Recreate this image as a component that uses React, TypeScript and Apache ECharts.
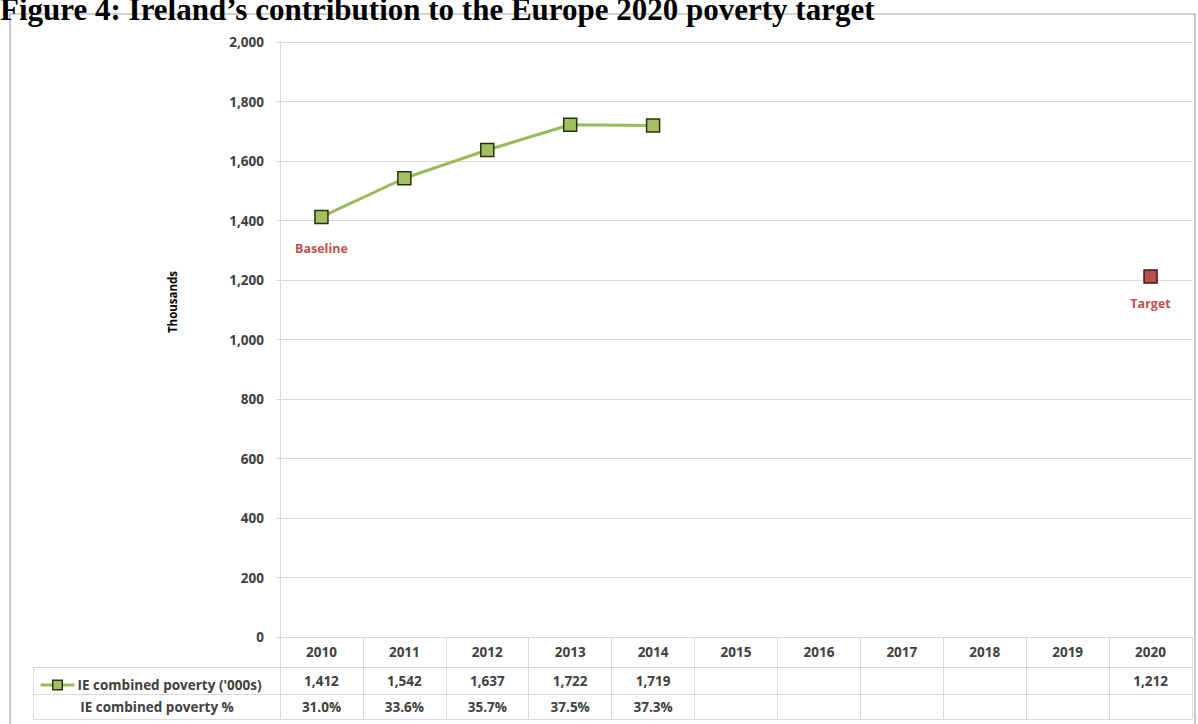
import React, { useEffect, useRef } from "react";
import * as echarts from "echarts";

const years = ["2010", "2011", "2012", "2013", "2014", "2015", "2016", "2017", "2018", "2019", "2020"];
const povertyThousands: (number | null)[] = [1412, 1542, 1637, 1722, 1719, null, null, null, null, null, 1212];
const povertyPct: (number | null)[] = [31.0, 33.6, 35.7, 37.5, 37.3, null, null, null, null, null, null];
const pointNotes: (string | null)[] = ["Baseline", null, null, null, null, null, null, null, null, null, "Target"];
const seriesName = "IE combined poverty ('000s)";
const pctRowName = "IE combined poverty %";
const yAxisName = "Thousands";
const titleText = "Figure 4: Ireland\u2019s contribution to the Europe 2020 poverty target";
const yMin = 0;
const yMax = 2000;
const yStep = 200;

const FONT = "'Open Sans', 'Noto Sans', sans-serif";
const GRID_C = "#D9D9D9";
const TXT = "#404040";
const LINE_C = "#9BBB59";

const fmtThousands = (v: number | null) => (v == null ? "" : v.toLocaleString("en-US"));
const fmtPct = (v: number | null) => (v == null ? "" : v.toFixed(1) + "%");

export default function App() {
  const ref = useRef<HTMLDivElement>(null);
  useEffect(() => {
    if (!ref.current) return;
    const chart = echarts.init(ref.current, null, { renderer: "svg" });
    const last = povertyThousands.length - 1;
    const seriesData = povertyThousands.map((v, i) => {
      const note = pointNotes[i];
      const item: any = { value: v };
      if (i === last) {
        item.itemStyle = { color: "#B9504D", borderColor: "#4a1414" };
      }
      if (note) {
        item.label = { show: true, formatter: note, distance: i === last ? 13 : 18 };
      }
      return item;
    });
    const labelBase = { fontFamily: FONT, fontWeight: "bold" as const, fontSize: 13.5, color: TXT };
    chart.setOption({
      animation: false,
      backgroundColor: "#fff",
      grid: { left: 280, right: 6, top: 42, bottom: 87, containLabel: false },
      legend: {
        show: true,
        left: 34,
        top: 673,
        itemWidth: 34,
        itemHeight: 12,
        itemGap: 4,
        data: [{ name: seriesName }],
        lineStyle: { color: LINE_C, width: 3 },
        itemStyle: { color: "#A3C163", borderColor: "#26330d", borderWidth: 1.5 },
        textStyle: { ...labelBase, padding: [0, 0, 0, -2] },
        selectedMode: false,
      },
      xAxis: [
        {
          type: "category",
          data: years,
          position: "bottom",
          boundaryGap: true,
          axisLine: { show: true, lineStyle: { color: GRID_C, width: 1 } },
          axisTick: { show: true, length: 82, interval: 0, lineStyle: { color: GRID_C } },
          axisLabel: { ...labelBase, margin: 8, interval: 0 },
        },
        {
          type: "category",
          data: years,
          position: "bottom",
          offset: 30,
          axisLine: { show: true, lineStyle: { color: GRID_C, width: 1 } },
          axisTick: { show: false },
          axisLabel: { ...labelBase, margin: 7, interval: 0, formatter: (_v: string, i: number) => fmtThousands(povertyThousands[i]) },
        },
        {
          type: "category",
          data: years,
          position: "bottom",
          offset: 57,
          axisLine: { show: true, lineStyle: { color: GRID_C, width: 1 } },
          axisTick: { show: false },
          axisLabel: { ...labelBase, margin: 6, interval: 0, formatter: (_v: string, i: number) => fmtPct(povertyPct[i]) },
        },
      ],
      yAxis: {
        type: "value",
        min: yMin,
        max: yMax,
        interval: yStep,
        axisLine: { show: true, lineStyle: { color: GRID_C } },
        axisTick: { show: true, length: 4, lineStyle: { color: GRID_C } },
        splitLine: { show: true, lineStyle: { color: GRID_C, width: 1 } },
        axisLabel: { ...labelBase, margin: 16, formatter: (v: number) => v.toLocaleString("en-US") },
      },
      series: [
        {
          name: seriesName,
          type: "line",
          data: seriesData,
          connectNulls: false,
          symbol: "rect",
          symbolSize: 13,
          lineStyle: { color: LINE_C, width: 3 },
          itemStyle: { color: "#A3C163", borderColor: "#26330d", borderWidth: 1.5 },
          label: {
            show: false,
            position: "bottom",
            distance: 12,
            color: "#C0504D",
            fontFamily: FONT,
            fontWeight: "bold",
            fontSize: 12.5,
          },
        },
      ],
      graphic: [
        {
          type: "rect",
          shape: { x: 10, y: 14, width: 1185, height: 730 },
          style: { fill: "none", stroke: "#A6A6A6", lineWidth: 1.2 },
          silent: true,
        },
        {
          type: "text",
          x: 0,
          y: -6,
          style: {
            text: titleText,
            fontFamily: "'Liberation Serif', 'Times New Roman', serif",
            fontWeight: "bold",
            fontSize: 31,
            fill: "#000",
            textVerticalAlign: "top",
          },
        },
        {
          type: "text",
          x: 172,
          y: 302,
          rotation: Math.PI / 2,
          style: {
            text: yAxisName,
            fontFamily: FONT,
            fontWeight: "bold",
            fontSize: 11.5,
            fill: "#000",
            align: "center",
            verticalAlign: "middle",
          },
        },
        { type: "line", shape: { x1: 33, y1: 667.5, x2: 280, y2: 667.5 }, style: { stroke: GRID_C, lineWidth: 1 } },
        { type: "line", shape: { x1: 33, y1: 694.5, x2: 280, y2: 694.5 }, style: { stroke: GRID_C, lineWidth: 1 } },
        { type: "line", shape: { x1: 33, y1: 719.5, x2: 1192, y2: 719.5 }, style: { stroke: GRID_C, lineWidth: 1 } },
        { type: "line", shape: { x1: 33.5, y1: 667, x2: 33.5, y2: 720 }, style: { stroke: GRID_C, lineWidth: 1 } },
        {
          type: "text",
          x: 157,
          y: 707,
          style: {
            text: pctRowName,
            ...labelBase,
            fill: TXT,
            align: "center",
            verticalAlign: "middle",
          },
        },
      ],
    });
    return () => chart.dispose();
  }, []);
  return <div ref={ref} style={{ position: "absolute", left: 0, top: 0, width: 1198, height: 724 }} />;
}
